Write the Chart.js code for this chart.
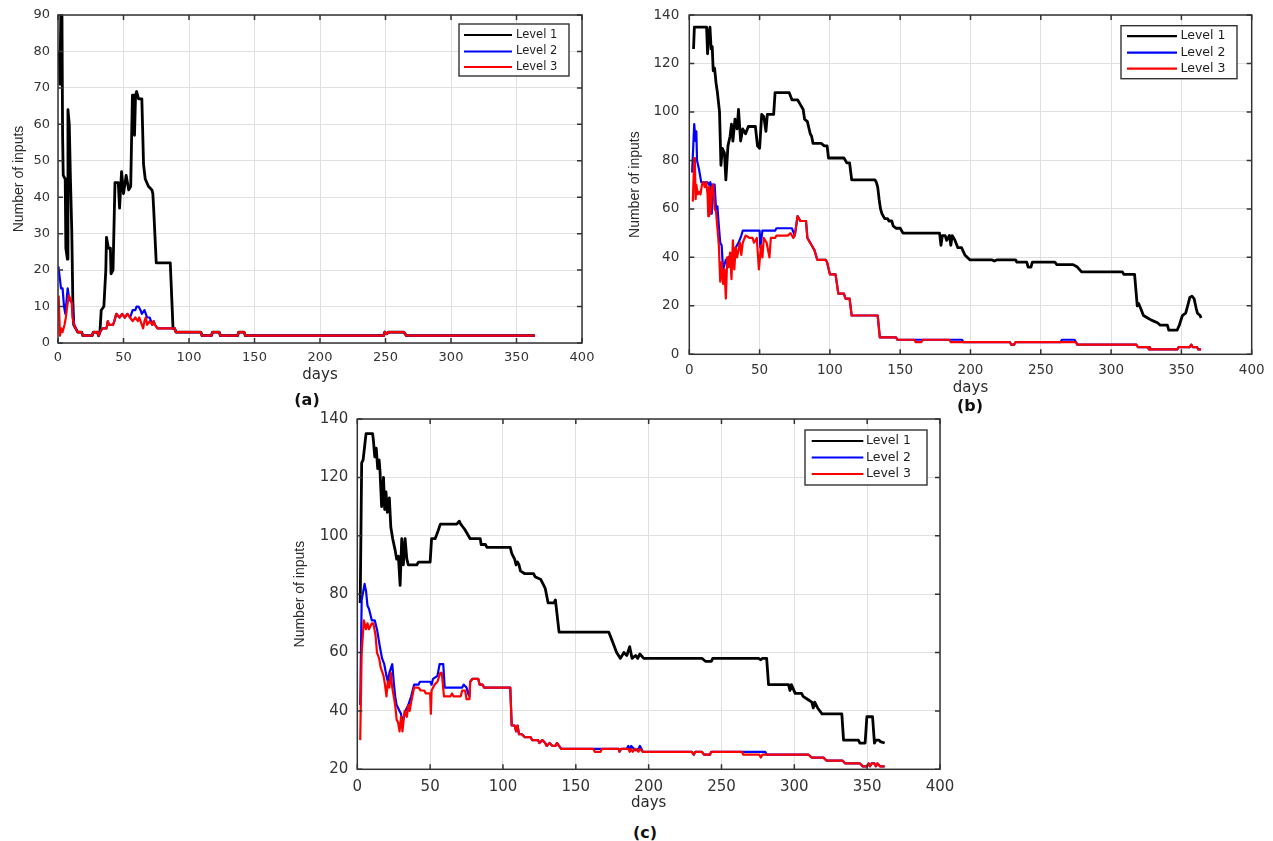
<!DOCTYPE html>
<html><head><meta charset="utf-8">
<script src="https://cdn.jsdelivr.net/npm/chart.js@4.4.1/dist/chart.umd.min.js"></script>
<style>
html,body{margin:0;padding:0;background:#fff;}
body{width:1273px;height:841px;position:relative;overflow:hidden;}
canvas{position:absolute;}
.lab{position:absolute;font:bold 16px "DejaVu Sans",sans-serif;color:#111;transform:translate(-50%,-50%);white-space:nowrap;}
</style></head><body>
<script>
// ---------- DATA: [day, number of inputs] ----------
const seriesLabels = ['Level 1', 'Level 2', 'Level 3'];
const panelLabels = ['(a)', '(b)', '(c)'];
const xTitle = 'days';
const yTitle = 'Number of inputs';
const xTicks = [0, 400, 50];          // min, max, step
const yTicksA = [0, 90, 10];
const yTicksB = [0, 140, 20];
const yTicksC = [20, 140, 20];

// Panel (a)
const aLevel1 = [[1,80],[1.5,71],[2.3,95],[3,92],[3.5,57],[4,46],[5.5,45],[6,26],[7.2,23],[7.6,64],[8.6,60],[9.5,45],[10.5,31],[11.3,12],[12,5],[13.5,4],[15,3],[18,3],[19,2],[26,2],[27,3],[30,3],[31,2],[32,3],[33,9],[35,10],[36.5,20],[37,29],[38.5,26],[40,26],[40.5,19],[42,20],[43.5,44],[46,44],[47,37],[48.5,47],[50,41],[52,46],[54,42],[55.5,43],[56.8,68],[57.5,68],[58.4,57],[59.2,68],[60,69],[61.5,67],[64,67],[65.3,49],[66.6,45],[69,43],[71.7,42],[72.4,41],[73,37],[75,22],[85.7,22],[87.8,4],[89,4],[90,3],[109,3],[110,2],[117,2],[118,3],[123,3],[124,2],[137,2],[138,3],[142,3],[143,2],[248.5,2],[249.5,3],[250.8,2.5],[252.5,3],[264,3],[266,2],[364,2]];
const aLevel2 = [[0.3,21],[2.3,15],[3.5,15],[4.6,10],[5.6,8],[7.4,15],[8.5,12],[10.7,11],[12.2,5],[13.5,4],[15,3],[18,3],[19,2],[26,2],[27,3],[30,3],[31,2],[32,3],[34,4],[37,4],[38,6],[39,5],[42,5],[43,6],[44.5,8],[47,7],[49,8],[51,7],[53,8],[55,7],[56,8],[57,9],[59,9],[60,10],[61.5,10],[63,9],[64,8],[66,9],[68,7],[70,7],[72,5],[73,6],[74,5],[76,4],[89,4],[90,3],[109,3],[110,2],[117,2],[118,3],[123,3],[124,2],[137,2],[138,3],[142,3],[143,2],[248.5,2],[249.5,3],[250.8,2.5],[252.5,3],[264,3],[266,2],[364,2]];
const aLevel3 = [[0.5,13],[1.5,2],[2.5,4],[3.5,3],[5,5],[6,7],[7,10],[8.2,13],[9.7,12],[10.5,11],[11,7],[12.5,5],[13.5,4],[15,3],[18,3],[19,2],[26,2],[27,3],[30,3],[31,2],[32,3],[34,4],[37,4],[38,6],[39,5],[42,5],[43,6],[44.5,8],[47,7],[49,8],[51,7],[53,8],[55,7],[57,6],[59,7],[61,6],[62,7],[64,5],[65,4],[66,6],[67,7],[68,5],[70,6],[72,5],[73,6],[74,5],[76,4],[89,4],[90,3],[109,3],[110,2],[117,2],[118,3],[123,3],[124,2],[137,2],[138,3],[142,3],[143,2],[248.5,2],[249.5,3],[250.8,2.5],[252.5,3],[264,3],[266,2],[364,2]];

// Panel (b)
const bLevel1 = [[3,126],[3.6,135],[12.3,135],[13,124],[13.5,131],[14.7,135],[15.5,126],[16.3,127],[17,117],[18,118],[19,112],[20,108],[21.5,100],[22.5,78],[23.5,85],[25,83],[26,72],[27.5,86],[29,90],[30,95],[31,88],[32.5,97],[34,93],[35,101],[36.5,88],[38,93],[40,91],[42,94],[47,94],[48.5,86],[50,85],[51.5,99],[53,98],[54.5,92],[55.5,99],[60,99],[61,108],[71,108],[73,105],[77,105],[79,103],[81,101],[82,97],[84,96],[86,91],[87,90],[88,87],[94,87],[96,86],[98,86],[99,81],[110,81],[112,79],[114,79],[115.5,72],[132,72],[133,71],[134,69],[135,64],[136,60],[137,58],[139,56],[141,56],[142,55],[144,55],[145,53],[147,52],[150,52],[152,50],[178,50],[179,45],[180,49],[182,49],[183,47],[185,49],[186,45],[187,49],[189,47],[191,44],[193.6,44],[196,41],[199.5,39],[215,39],[217,38.5],[219,39],[232,39],[233,38],[240,38],[241,36],[243,36],[244,38],[260,38],[261.4,37],[273,37],[276,36],[279,34],[308,34],[309,33],[316.7,33],[318.6,20],[319.5,21],[321,19],[323,16],[326,15],[329,14],[333,13],[335,12],[340,12],[341,10],[347,10],[348.5,12],[350.7,16],[353,17],[354,19],[356,23.5],[357.5,24],[359,23],[360.5,19],[361.4,17],[363.3,16],[364,15]];
const bLevel2 = [[2,75],[3.5,95],[4.5,88],[5,92],[5.5,80],[7,76],[8.5,71],[13,71],[14,70],[15,71],[15.5,58],[16,70],[18,70],[19,60],[20,61],[21,53],[22,46],[23,45],[24,35],[26,39],[28,40],[31,42],[33,44],[35,46],[37,49],[38,51],[50,51],[50.5,44],[52,51],[61,51],[62,52],[73,52],[75,49],[77,57],[79,55],[83,55],[84,48],[85,47],[87,45],[89,43],[91,39],[97,39],[98,38],[100,33],[104,33],[106,25],[110,25],[111,23],[114,23],[115.5,16],[134,16],[135.5,7],[147,7],[148,6],[185,6],[194,6],[195,5],[228,5],[229,4],[231,4],[232,5],[264,5],[265,6],[274,6],[275,5],[276,4],[318,4],[319,3],[326,3],[327,2],[327.5,3],[328,2],[347,2],[348,3],[356,3],[357,4],[358,3],[361,3],[362,2],[364,2]];
const bLevel3 = [[2.5,63],[3.5,81],[4,78],[4.5,64],[5,70],[6,66],[7,67],[8,66],[9,70],[10,71],[11,69],[12,71],[13,66],[13.5,57],[14,69],[15,58],[16,69],[17,70],[18,60],[19,59],[20,52],[21,45],[22,30],[23,38],[24,29],[25,35],[26,23],[27,40],[28,36],[29,42],[30,31],[31,47],[32,35],[33,44],[34,40],[36,46],[37,41],[38,46],[40,49],[43,48],[45,48],[46,46],[48,48],[49.5,35],[51,45],[52,40],[53,48],[55,46],[57,40],[58,48],[61,48],[62,49],[70,49],[72,50],[74,48],[75,49],[77,57],[79,55],[83,55],[84,48],[85,47],[87,45],[89,43],[91,39],[97,39],[98,38],[100,33],[104,33],[106,25],[110,25],[111,23],[114,23],[115.5,16],[134,16],[135.5,7],[147,7],[148,6],[160,6],[161,5],[165,5],[166,6],[185,6],[186,5],[228,5],[229,4],[231,4],[232,5],[275,5],[276,4],[318,4],[319,3],[326,3],[327,2],[327.5,3],[328,2],[347,2],[348,3],[356,3],[357,4],[358,3],[361,3],[362,2],[364,2]];

// Panel (c)
const cLevel1 = [[2,77],[3,125],[4,126],[6,135],[10.5,135],[11,133],[12,127],[13,130],[14,123],[15,126],[15.6,122],[16.7,110],[18,120],[18.8,109],[19.7,115],[20.6,108],[22,113],[23,103],[24.3,99],[26,95],[27,92],[28.2,93],[29.4,83],[30.5,99],[31.6,90],[32.8,99],[34,92],[35,90],[40.8,90],[42,91],[50,91],[51,99],[53.4,99],[55,101],[57,104],[68.3,104],[70,105],[71,104],[72.5,103],[74,102],[77.5,99],[84.4,99],[85,97],[88,97],[89,96],[105,96],[106,94],[108,92],[109,90],[110,91],[111,90],[112,88],[115,87],[121,87],[122,86],[126,85],[128,83],[129,82],[131,77],[135,77],[136,78],[138.5,67],[172.6,67],[175,64],[178,60],[180.6,58],[183,60],[185,59],[187,62],[188.6,58],[191,59],[192.5,58],[194,59.5],[196.6,58],[236.6,58],[239,57],[243,57],[244,58],[275.5,58],[277,57.5],[278,58],[281,58],[282.3,49],[296,49],[297,47],[298,49],[300.6,46],[305,46],[306,45],[309,44],[312,43],[313,41],[314,43],[316,41],[319,39],[332.6,39],[333.8,30],[344,30],[345,29],[348.6,29],[349.8,38],[353.7,38],[355,29],[356,30],[358,30],[359,29.5],[362,29]];
const cLevel2 = [[2,42],[3,78],[5,83.5],[6,81],[7,76],[8,75],[10,71],[12,71],[13.5,68],[14.5,65],[15.5,62],[17,58],[18.5,56],[20,52],[21,50],[22,53],[24,56],[25,50],[26,45],[27,42],[29,40],[30,39],[31,36],[32,38],[33,40],[35,42],[37,45],[39,49],[42,49],[43,50],[50,50],[51,49],[52,51],[55,52],[56.5,56],[59,56],[60,48],[72,48],[73,49],[75,48],[76,46],[77,45],[77.5,50],[79,51],[83,51],[84,49],[86,49],[87,48],[105,48],[106,35],[108,35],[109,33],[110,35],[111,32],[113,32],[115,31],[119,31],[120,30],[124,30],[125,29],[127,30],[129,29],[130,28],[132,29],[134,28],[136,28],[137,29],[140,27],[168,27],[179.4,27],[180,26],[181,27],[185,27],[186,28],[187,26.5],[188,28],[190,27],[191,26.5],[193,27],[194,28],[195,27],[196,26],[229.7,26],[231,25],[232,26],[236.6,26],[238,25],[242,25],[243,26],[280,26],[281,25],[309.8,25],[312,24],[320,24],[322,23],[333,23],[335,22],[345,22],[347,21],[350,21],[351,22],[352,21],[353,22],[355,22],[356,21],[357,22],[359,21],[362,21]];
const cLevel3 = [[2,30],[3,60],[4.5,71],[6,68],[7,70],[8,68],[10,70],[11,70],[12.5,66],[13.5,60],[15,58],[16,55],[18,52],[19,49],[20,45],[21,50],[22,48],[23,53],[24,48],[25,45],[26,42],[27,37],[28,36],[29,33],[30,38],[31,33],[32.5,40],[34,38],[35,42],[36,40],[37,43],[39,48],[42,48],[43.5,47],[46,47],[47,46],[50,46],[50.5,39],[51,47],[53,49],[55,50],[57,53],[58,53],[59.5,45],[64,45],[65,46],[66,45],[71,45],[72,47],[74,47],[75,44],[77,44],[77.5,50],[79,51],[83,51],[84,49],[86,49],[87,48],[105,48],[106,35],[108,35],[109,33],[110,35],[111,32],[113,32],[115,31],[119,31],[120,30],[124,30],[125,29],[127,30],[129,29],[130,28],[132,29],[134,28],[136,28],[137,29],[140,27],[162,27],[163,26],[167,26],[168,27],[179.4,27],[180,26],[181,27],[186,27],[187,26],[188,27],[189,26],[191,27],[193,26],[194,27],[196,26],[229.7,26],[231,25],[232,26],[236.6,26],[238,25],[242,25],[243,26],[264,26],[265,25],[276,25],[277,24],[278,25],[309.8,25],[312,24],[320,24],[322,23],[333,23],[335,22],[345,22],[347,21],[350,21],[351,22],[352,21],[353,22],[355,22],[356,21],[357,22],[359,21],[362,21]];

const lineColors = ['#000000', '#0000ff', '#ff0000'];

// ---------- DRAWING ----------
function toPts(arr){ return arr.map(p => ({x: p[0], y: p[1]})); }

const matBox = {
  id: 'matBox',
  afterDraw(chart, args, opts){
    const {ctx, chartArea: a, scales} = chart;
    ctx.save();
    ctx.strokeStyle = '#333333'; ctx.lineWidth = 1.5;
    ctx.strokeRect(a.left, a.top, a.right - a.left, a.bottom - a.top);
    const L = 5;
    ctx.beginPath();
    scales.x.ticks.forEach(t => {
      const px = scales.x.getPixelForValue(t.value);
      ctx.moveTo(px, a.bottom); ctx.lineTo(px, a.bottom - L);
      ctx.moveTo(px, a.top); ctx.lineTo(px, a.top + L);
    });
    scales.y.ticks.forEach(t => {
      const py = scales.y.getPixelForValue(t.value);
      ctx.moveTo(a.left, py); ctx.lineTo(a.left + L, py);
      ctx.moveTo(a.right, py); ctx.lineTo(a.right - L, py);
    });
    ctx.stroke();
    const lg = opts.legend;
    const bx = a.right - lg.right - lg.w, by = a.top + lg.top;
    ctx.fillStyle = '#ffffff'; ctx.fillRect(bx, by, lg.w, lg.h);
    ctx.strokeStyle = '#333333'; ctx.lineWidth = 1.4;
    ctx.strokeRect(bx, by, lg.w, lg.h);
    ctx.font = lg.font; ctx.textBaseline = 'middle'; ctx.textAlign = 'left';
    chart.data.datasets.forEach((ds, i) => {
      const y = by + lg.rows[i];
      ctx.strokeStyle = ds.borderColor; ctx.lineWidth = 2.2;
      ctx.beginPath(); ctx.moveTo(bx + lg.x0, y); ctx.lineTo(bx + lg.x1, y); ctx.stroke();
      ctx.fillStyle = '#1e1e1e';
      ctx.fillText(ds.label, bx + lg.tx, y);
    });
    ctx.restore();
  }
};

function makePanel(p){
  const cv = document.createElement('canvas');
  cv.width = p.w; cv.height = p.h;
  cv.style.left = p.left + 'px'; cv.style.top = p.top + 'px';
  cv.style.width = p.w + 'px'; cv.style.height = p.h + 'px';
  document.body.appendChild(cv);
  const yW = p.area.l - p.left, xH = p.top + p.h - p.area.b;
  const series = [p.s1, p.s2, p.s3];
  new Chart(cv, {
    type: 'line',
    data: { datasets: series.map((s, i) => ({
      label: seriesLabels[i], data: toPts(s), borderColor: lineColors[i],
      backgroundColor: lineColors[i], borderWidth: i === 0 ? 2.8 : 2.2, order: 3 - i,
      pointRadius: 0, tension: 0, fill: false, borderJoinStyle: 'round'
    })) },
    options: {
      responsive: false, animation: false, devicePixelRatio: 1,
      events: [],
      layout: { padding: { top: p.area.t - p.top, right: p.left + p.w - p.area.r, left: 0, bottom: 0 } },
      plugins: { legend: { display: false }, tooltip: { enabled: false }, matBox: { legend: p.legend } },
      scales: {
        x: {
          type: 'linear', min: xTicks[0], max: xTicks[1],
          ticks: { stepSize: xTicks[2], color: '#333333', font: { family: 'DejaVu Sans', size: p.fs }, padding: p.xPad, maxRotation: 0, autoSkip: false },
          grid: { color: '#e0e0e0', lineWidth: 1, drawTicks: false },
          border: { display: false },
          title: { display: true, text: xTitle, color: '#2a2a2a', font: { family: 'DejaVu Sans', size: 15 }, padding: { top: 0, bottom: 8 } },
          afterFit(s){ s.height = xH; s.paddingLeft = 0; s.paddingRight = 0; }
        },
        y: {
          type: 'linear', min: p.yt[0], max: p.yt[1],
          ticks: { stepSize: p.yt[2], color: '#333333', font: { family: 'DejaVu Sans', size: p.fs }, padding: p.yPad },
          grid: { color: '#e0e0e0', lineWidth: 1, drawTicks: false },
          border: { display: false },
          title: { display: true, text: yTitle, color: '#2a2a2a', font: { family: 'Liberation Sans', size: 14 }, padding: { top: p.ytPad, bottom: 0 } },
          afterFit(s){ s.width = yW; s.paddingTop = 0; s.paddingBottom = 0; }
        }
      }
    },
    plugins: [matBox]
  });
}

makePanel({ left: 0, top: 0, w: 600, h: 392, area: { l: 58, t: 15, r: 582, b: 343 },
  s1: aLevel1, s2: aLevel2, s3: aLevel3, yt: yTicksA, fs: 13, xPad: 7, yPad: 8, ytPad: 10.6,
  legend: { right: 13, top: 9, w: 110, h: 52, x0: 5, x1: 53, tx: 57, rows: [11, 27.5, 43], font: '11.5px "DejaVu Sans"' } });

makePanel({ left: 620, top: 0, w: 650, h: 405, area: { l: 689.3, t: 15, r: 1251.7, b: 354.3 },
  s1: bLevel1, s2: bLevel2, s3: bLevel3, yt: yTicksB, fs: 13.5, xPad: 7.6, yPad: 10, ytPad: 6.6,
  legend: { right: 14.7, top: 10.7, w: 116, h: 53, x0: 6, x1: 56, tx: 59.5, rows: [10.5, 27, 43], font: '12.5px "DejaVu Sans"' } });

makePanel({ left: 280, top: 400, w: 680, h: 420, area: { l: 357.3, t: 419, r: 940, b: 769.3 },
  s1: cLevel1, s2: cLevel2, s3: cLevel3, yt: yTicksC, fs: 15, xPad: 8.7, yPad: 9, ytPad: 11.6,
  legend: { right: 13, top: 11, w: 122, h: 55, x0: 6.7, x1: 58.3, tx: 61, rows: [11, 27.5, 44], font: '12.5px "DejaVu Sans"' } });

[[307, 399], [970, 405], [645, 832]].forEach((pos, i) => {
  const d = document.createElement('div');
  d.className = 'lab'; d.textContent = panelLabels[i];
  d.style.left = pos[0] + 'px'; d.style.top = pos[1] + 'px';
  document.body.appendChild(d);
});
</script>
</body></html>
